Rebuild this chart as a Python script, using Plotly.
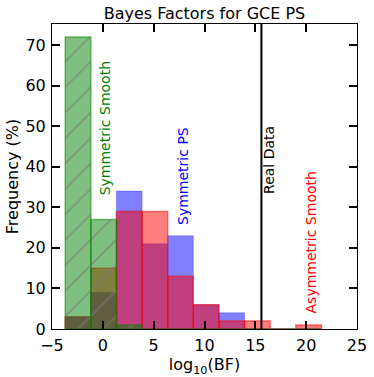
"""
Distribution of Bayes factors for the GCE point-source fits,
compared with the value found in the real data.
"""

import plotly.graph_objects as go

# histogram bins shared by every series, in log10(BF)
bin_edges = [-3.7, -1.18, 1.34, 3.86, 6.38, 8.9, 11.42, 13.94, 16.46, 18.98, 21.5]

# percentage of simulations falling in each bin
sym_smooth = [72, 27, 1, 0, 0, 0, 0, 0, 0, 0]
sym_ps = [3, 9, 34, 21, 23, 6, 4, 0, 0, 0]
asym_smooth = [3, 15, 29, 29, 13, 6, 2, 2, 0, 1]

real_data_bf = 15.6

FONT = "DejaVu Sans"


def main():
    centers = [(a + b) / 2 for a, b in zip(bin_edges[:-1], bin_edges[1:])]
    widths = [b - a for a, b in zip(bin_edges[:-1], bin_edges[1:])]

    fig = go.Figure()
    # drawn blue, red, green so the overlaps mix the same way as the original
    fig.add_trace(go.Bar(
        x=centers, y=sym_ps, width=widths, name="Symmetric PS",
        marker=dict(color="rgba(0,0,255,0.5)",
                    line=dict(color="rgba(0,0,255,0.25)", width=1)),
    ))
    fig.add_trace(go.Bar(
        x=centers, y=asym_smooth, width=widths, name="Asymmetric Smooth",
        marker=dict(color="rgba(255,0,0,0.5)",
                    line=dict(color="rgba(255,0,0,0.5)", width=1.5)),
    ))
    fig.add_trace(go.Bar(
        x=centers, y=sym_smooth, width=widths, name="Symmetric Smooth",
        marker=dict(
            color="rgba(0,128,0,0.5)",
            line=dict(color="rgba(0,128,0,0.5)", width=1.5),
            pattern=dict(shape="/", fgcolor="rgb(120,120,120)", fgopacity=0.75,
                         size=18, solidity=0.07, fillmode="overlay"),
        ),
    ))

    fig.add_shape(type="line", x0=real_data_bf, x1=real_data_bf, y0=0, y1=1,
                  xref="x", yref="paper", line=dict(color="black", width=2))

    labels = [
        ("Symmetric Smooth", 0.23, 32.5, "green"),
        ("Symmetric PS", 7.9, 25.2, "blue"),
        ("Real Data", 16.4, 32.7, "black"),
        ("Asymmetric Smooth", 20.5, 3.4, "red"),
    ]
    for text, x, y, color in labels:
        fig.add_annotation(x=x, y=y, text=text, textangle=-90, showarrow=False,
                           xanchor="center", yanchor="bottom",
                           font=dict(family=FONT, size=14, color=color))

    axis = dict(
        showline=True, linecolor="black", linewidth=1, mirror="ticks",
        ticks="inside", ticklen=8, tickwidth=1.5, tickcolor="black",
        showgrid=False, zeroline=False, automargin=False,
        tickfont=dict(family=FONT, size=16, color="black"),
    )
    fig.update_xaxes(range=[-5, 25], dtick=5, ticklabelstandoff=2,
                     title=dict(text="log<sub>10</sub>(BF)", standoff=0,
                                font=dict(family=FONT, size=16, color="black")),
                     **axis)
    fig.update_yaxes(range=[0, 75.2], dtick=10, ticklabelstandoff=2,
                     title=dict(text="Frequency (%)", standoff=2,
                                font=dict(family=FONT, size=16, color="black")),
                     **axis)

    fig.update_layout(
        barmode="overlay",
        showlegend=False,
        width=374,
        height=377,
        margin=dict(l=52, r=17, t=24, b=48, autoexpand=False),
        plot_bgcolor="white",
        paper_bgcolor="white",
        title=dict(text="Bayes Factors for GCE PS", x=0.5, xref="paper",
                   xanchor="center", y=1 - 13 / 377, yanchor="middle",
                   yref="container", automargin=False,
                   font=dict(family=FONT, size=16, color="black")),
    )
    # the page's default body margin would shift the figure by 8px
    fig.write_html("out.html", config={"displayModeBar": False},
                   post_script="document.body.style.margin='0';")


if __name__ == "__main__":
    main()
